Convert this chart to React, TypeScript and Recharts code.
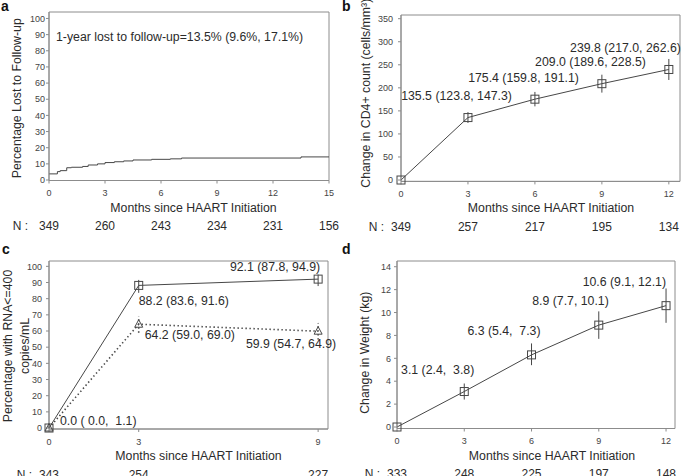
import React from "react"
import {
  ComposedChart,
  Line,
  XAxis,
  YAxis,
  ErrorBar,
  ReferenceArea,
  ReferenceDot,
} from "recharts"

const FONT = '"Liberation Sans", Arial, Helvetica, sans-serif'
const AXIS = "#8c8c8c"
const INK = "#2b2b2b"
const LINE = "#474747"
const TXT = 12.3

// a: lost to follow-up (step curve)
const lostMonths = [0, 0.45, 0.6, 0.95, 1.2, 1.8, 2.1, 2.6, 3.0, 3.5, 4.0, 4.5, 5.5, 6.5, 7.1, 13.5, 15]
const lostPct = [3.8, 5.2, 5.8, 7.6, 7.9, 8.4, 9.3, 10.0, 10.8, 11.3, 11.8, 12.4, 12.8, 13.1, 13.6, 14.3, 14.3]
const lostTicks = [0, 3, 6, 9, 12, 15]
const lostN = [349, 260, 243, 234, 231, 156]
const lostNote = "1-year lost to follow-up=13.5% (9.6%, 17.1%)"

// b: CD4 change
const cd4Months = [0, 3, 6, 9, 12]
const cd4Change = [0, 135.5, 175.4, 209.0, 239.8]
const cd4Low = [0, 123.8, 159.8, 189.6, 217.0]
const cd4High = [0, 147.3, 191.1, 228.5, 262.6]
const cd4N = [349, 257, 217, 195, 134]
const cd4YTicks = [0, 50, 100, 150, 200, 250, 300, 350]

// c: RNA <= 400
const rnaMonths = [0, 3, 9]
const rnaPct = [0, 88.2, 92.1]
const rnaLow = [0, 83.6, 87.8]
const rnaHigh = [1.1, 91.6, 94.9]
const rnaAllPct = [0, 64.2, 59.9]
const rnaAllLow = [0, 59.0, 54.7]
const rnaAllHigh = [1.1, 69.0, 64.9]
const rnaN = [343, 254, 227]
const pctTicks = [0, 10, 20, 30, 40, 50, 60, 70, 80, 90, 100]

// d: weight change
const wtMonths = [0, 3, 6, 9, 12]
const wtChange = [0, 3.1, 6.3, 8.9, 10.6]
const wtLow = [0, 2.4, 5.4, 7.7, 9.1]
const wtHigh = [0, 3.8, 7.3, 10.1, 12.1]
const wtN = [333, 248, 225, 197, 148]
const wtYTicks = [0, 2, 4, 6, 8, 10, 12, 14]

type Lab = { dx: number; dy: number; anchor: "start" | "end" } | null

const f1 = (v: number) => v.toFixed(1)
const ciText = (v: number, lo: number, hi: number, padLo: boolean) =>
  `${f1(v)} (${padLo ? f1(lo).padStart(4) : f1(lo)}, ${f1(hi).padStart(4)})`

const lostData = lostMonths.map((m, i) => ({ m, v: lostPct[i] }))
const ciRows = (months: number[], v: number[], lo: number[], hi: number[]) =>
  months.map((m, i) => ({ m, v: v[i], err: [v[i] - lo[i], hi[i] - v[i]] }))
const cd4Data = ciRows(cd4Months, cd4Change, cd4Low, cd4High)
const wtData = ciRows(wtMonths, wtChange, wtLow, wtHigh)
const rnaData = rnaMonths.map((m, i) => ({
  m,
  v: rnaPct[i],
  err: [rnaPct[i] - rnaLow[i], rnaHigh[i] - rnaPct[i]],
  v2: rnaAllPct[i],
  err2: [rnaAllPct[i] - rnaAllLow[i], rnaAllHigh[i] - rnaAllPct[i]],
}))

const cd4Texts = cd4Change.map((v, i) => ciText(v, cd4Low[i], cd4High[i], false))
const wtTexts = wtChange.map((v, i) => ciText(v, wtLow[i], wtHigh[i], false))
const rnaTexts = rnaPct.map((v, i) => ciText(v, rnaLow[i], rnaHigh[i], true))
const rnaAllTexts = rnaAllPct.map((v, i) => ciText(v, rnaAllLow[i], rnaAllHigh[i], true))

// where each CI label sits relative to its point
const cd4Labs: Lab[] = [
  null,
  { dx: 44, dy: -17.5, anchor: "end" },
  { dx: 44, dy: -17.5, anchor: "end" },
  { dx: 44, dy: -17.5, anchor: "end" },
  { dx: 12, dy: -17.5, anchor: "end" },
]
const wtLabs: Lab[] = [
  null,
  { dx: 10, dy: -18, anchor: "end" },
  { dx: 9, dy: -19.5, anchor: "end" },
  { dx: 10, dy: -19.7, anchor: "end" },
  { dx: 0, dy: -20, anchor: "end" },
]
const rnaLabs: Lab[] = [
  { dx: 11, dy: -3, anchor: "start" },
  { dx: 0, dy: 19.6, anchor: "start" },
  { dx: 2, dy: -8, anchor: "end" },
]
const rnaAllLabs: Lab[] = [
  null,
  { dx: 6, dy: 15, anchor: "start" },
  { dx: 18, dy: 17, anchor: "end" },
]

const tickStyle = { fontSize: 9, fill: "#444", fontFamily: FONT }

function MonthTick(props: any) {
  const { x, y, payload, counts, ticks, nGap } = props
  const i = ticks.indexOf(payload.value)
  return (
    <g>
      <text x={x} y={y + 10.5} textAnchor="middle" fontSize={9} fill="#444">
        {payload.value}
      </text>
      <text x={x} y={y + 44.5} textAnchor="middle" fontSize={12} fill={INK}>
        {counts[i]}
      </text>
      {i === 0 && (
        <text x={x - nGap} y={y + 44.5} textAnchor="end" fontSize={12} fill={INK}>
          N :
        </text>
      )}
    </g>
  )
}

const xLabel = (dx: number) => (props: any) => {
  const vb = props.viewBox || { x: 0, y: 0, width: 0, height: 0 }
  return (
    <text x={vb.x + vb.width / 2 + dx} y={vb.y + 31} textAnchor="middle" fontSize={TXT} fill={INK}>
      Months since HAART Initiation
    </text>
  )
}

const yLabel = (lines: string[], xs: number[], dy: number) => (props: any) => {
  const vb = props.viewBox || { x: 0, y: 0, width: 0, height: 0 }
  const cy = vb.y + vb.height / 2 + dy
  return (
    <g>
      {lines.map((t, i) => (
        <text
          key={t}
          x={xs[i]}
          y={cy}
          transform={`rotate(-90 ${xs[i]} ${cy})`}
          textAnchor="middle"
          dominantBaseline="central"
          fontSize={TXT}
          fill={INK}
        >
          {t}
        </text>
      ))}
    </g>
  )
}

const markDot = (shape: "square" | "triangle", labs: Lab[], texts: string[]) => (p: any) => {
  const { cx, cy, index } = p
  const lab = labs[index]
  return (
    <g key={`${shape}-${index}`}>
      {shape === "square" ? (
        <rect x={cx - 4} y={cy - 4} width={8} height={8} fill="none" stroke={LINE} strokeWidth={1} />
      ) : (
        <path d={`M${cx},${cy - 4.5} L${cx + 4},${cy + 3} L${cx - 4},${cy + 3} Z`} fill="none" stroke={LINE} strokeWidth={1} />
      )}
      {lab && (
        <text
          x={cx + lab.dx}
          y={cy + lab.dy}
          textAnchor={lab.anchor}
          fontSize={TXT}
          fill={INK}
          xmlSpace="preserve"
          style={{ whiteSpace: "pre" }}
        >
          {texts[index]}
        </text>
      )}
    </g>
  )
}

const Letter = ({ ch, left, top }: { ch: string; left: number; top: number }) => (
  <div style={{ position: "absolute", left, top, fontSize: 14, fontWeight: "bold", lineHeight: "14px", color: "#111" }}>
    {ch}
  </div>
)

export default function App() {
  return (
    <div style={{ position: "absolute", left: 0, top: 0, width: 682, height: 476, background: "#fff", fontFamily: FONT, overflow: "hidden" }}>
      {/* a */}
      <div style={{ position: "absolute", left: 0, top: 0 }}>
        <ComposedChart width={341} height={238} data={lostData} margin={{ top: 12, right: 12, bottom: 0, left: 0 }}>
          <XAxis
            type="number"
            dataKey="m"
            domain={[0, 15]}
            ticks={lostTicks}
            interval={0}
            height={57.5}
            stroke={AXIS}
            tickSize={3}
            tickMargin={2}
            tick={(p: any) => <MonthTick {...p} counts={lostN} ticks={lostTicks} nGap={21} />}
            label={xLabel(4.5)}
          />
          <YAxis
            type="number"
            domain={[-0.3, 104]}
            ticks={pctTicks}
            interval={0}
            width={49}
            stroke={AXIS}
            tickSize={3}
            tickMargin={1}
            tick={tickStyle}
            label={yLabel(["Percentage Lost to Follow-up"], [17], 2)}
          />
          <ReferenceArea x1={0} x2={15} y1={-0.3} y2={104} fill="none" stroke={AXIS} ifOverflow="visible" />
          <ReferenceDot
            x={0.32}
            y={88.7}
            r={1}
            fill="none"
            stroke="none"
            label={{ value: lostNote, position: "right", offset: 0, fontSize: TXT, fill: INK }}
          />
          <Line type="stepAfter" dataKey="v" stroke={LINE} strokeWidth={1} dot={false} activeDot={false} isAnimationActive={false} />
        </ComposedChart>
      </div>

      {/* b */}
      <div style={{ position: "absolute", left: 341, top: 0 }}>
        <ComposedChart width={341} height={238} data={cd4Data} margin={{ top: 15, right: 2, bottom: 0, left: 0 }}>
          <XAxis
            type="number"
            dataKey="m"
            domain={[0, 12.5]}
            ticks={cd4Months}
            interval={0}
            height={56.6}
            stroke={AXIS}
            tickSize={3}
            tickMargin={2}
            tick={(p: any) => <MonthTick {...p} counts={cd4N} ticks={cd4Months} nGap={17} />}
            label={xLabel(10.5)}
          />
          <YAxis
            type="number"
            domain={[-3, 358]}
            ticks={cd4YTicks}
            interval={0}
            width={60}
            stroke={AXIS}
            tickSize={3}
            tickMargin={5}
            tick={tickStyle}
            label={yLabel(["Change in CD4+ count (cells/mm³)"], [25], -5)}
          />
          <ReferenceArea x1={0} x2={12.5} y1={-3} y2={358} fill="none" stroke={AXIS} ifOverflow="visible" />
          <Line
            dataKey="v"
            stroke={LINE}
            strokeWidth={1}
            dot={markDot("square", cd4Labs, cd4Texts)}
            activeDot={false}
            isAnimationActive={false}
          >
            <ErrorBar dataKey="err" direction="y" width={0} stroke={LINE} strokeWidth={1} isAnimationActive={false} />
          </Line>
        </ComposedChart>
      </div>

      {/* c */}
      <div style={{ position: "absolute", left: 0, top: 238 }}>
        <ComposedChart width={341} height={238} data={rnaData} margin={{ top: 23, right: 13, bottom: 0, left: 0 }}>
          <XAxis
            type="number"
            dataKey="m"
            domain={[0, 9.33]}
            ticks={rnaMonths}
            interval={0}
            height={47}
            stroke={AXIS}
            tickSize={3}
            tickMargin={2}
            tick={(p: any) => <MonthTick {...p} counts={rnaN} ticks={rnaMonths} nGap={17} />}
            label={xLabel(10)}
          />
          <YAxis
            type="number"
            domain={[-0.6, 103.3]}
            ticks={pctTicks}
            interval={0}
            width={49}
            stroke={AXIS}
            tickSize={3}
            tickMargin={4}
            tick={tickStyle}
            label={yLabel(["Percentage with RNA<=400", "copies/mL"], [8, 25], 1)}
          />
          <ReferenceArea x1={0} x2={9.33} y1={-0.6} y2={103.3} fill="none" stroke={AXIS} ifOverflow="visible" />
          <Line
            dataKey="v2"
            stroke={LINE}
            strokeWidth={1.6}
            strokeDasharray="1.4 2.6"
            dot={markDot("triangle", rnaAllLabs, rnaAllTexts)}
            activeDot={false}
            isAnimationActive={false}
          >
            <ErrorBar dataKey="err2" direction="y" width={0} stroke={LINE} strokeWidth={1.6} strokeDasharray="1.4 2.6" isAnimationActive={false} />
          </Line>
          <Line
            dataKey="v"
            stroke={LINE}
            strokeWidth={1}
            dot={markDot("square", rnaLabs, rnaTexts)}
            activeDot={false}
            isAnimationActive={false}
          >
            <ErrorBar dataKey="err" direction="y" width={0} stroke={LINE} strokeWidth={1} isAnimationActive={false} />
          </Line>
        </ComposedChart>
      </div>

      {/* d */}
      <div style={{ position: "absolute", left: 341, top: 238 }}>
        <ComposedChart width={341} height={238} data={wtData} margin={{ top: 23, right: 7, bottom: 0, left: 0 }}>
          <XAxis
            type="number"
            dataKey="m"
            domain={[0, 12.4]}
            ticks={wtMonths}
            interval={0}
            height={47.5}
            stroke={AXIS}
            tickSize={3}
            tickMargin={2}
            tick={(p: any) => <MonthTick {...p} counts={wtN} ticks={wtMonths} nGap={17} />}
            label={xLabel(16)}
          />
          <YAxis
            type="number"
            domain={[-0.13, 14.5]}
            ticks={wtYTicks}
            interval={0}
            width={56}
            stroke={AXIS}
            tickSize={3}
            tickMargin={3}
            tick={tickStyle}
            label={yLabel(["Change in Weight (kg)"], [24], 8)}
          />
          <ReferenceArea x1={0} x2={12.4} y1={-0.13} y2={14.5} fill="none" stroke={AXIS} ifOverflow="visible" />
          <Line
            dataKey="v"
            stroke={LINE}
            strokeWidth={1}
            dot={markDot("square", wtLabs, wtTexts)}
            activeDot={false}
            isAnimationActive={false}
          >
            <ErrorBar dataKey="err" direction="y" width={0} stroke={LINE} strokeWidth={1} isAnimationActive={false} />
          </Line>
        </ComposedChart>
      </div>

      <Letter ch="a" left={1} top={-1} />
      <Letter ch="b" left={342} top={-1} />
      <Letter ch="c" left={2} top={242} />
      <Letter ch="d" left={342} top={242} />
    </div>
  )
}
